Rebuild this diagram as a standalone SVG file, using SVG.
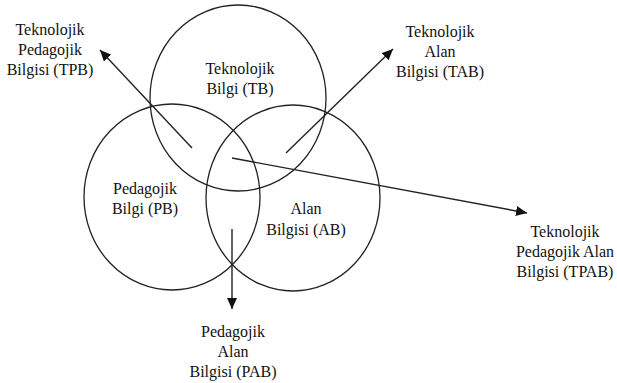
<svg xmlns="http://www.w3.org/2000/svg" width="617" height="383" viewBox="0 0 617 383">
<style>
.c{fill:none;stroke:#222;stroke-width:1.3}
.a{fill:none;stroke:#222;stroke-width:1.4}
</style>
<defs>
<marker id="ah" markerUnits="userSpaceOnUse" markerWidth="12" markerHeight="10" viewBox="0 0 12 10" refX="11" refY="5" orient="auto">
<path d="M0,0 L11,5 L0,10 Z" fill="#111"/>
</marker>
</defs>
<g id="TB"><ellipse class="c" cx="238" cy="98" rx="88" ry="93"/></g>
<g id="PB"><ellipse class="c" cx="172" cy="197" rx="88" ry="93"/></g>
<g id="AB"><ellipse class="c" cx="293" cy="198" rx="87" ry="93"/></g>
<g font-family="Liberation Serif, Times New Roman, DejaVu Serif, serif" font-size="16" fill="#111" text-anchor="middle">
<g id="TB-label"><text x="240" y="74">Teknolojik</text><text x="240" y="94">Bilgi (TB)</text></g>
<g id="PB-label"><text x="145" y="194">Pedagojik</text><text x="145" y="214">Bilgi (PB)</text></g>
<g id="AB-label"><text x="306" y="214">Alan</text><text x="306" y="235">Bilgisi (AB)</text></g>
<g id="TPB"><text x="50" y="35">Teknolojik</text><text x="50" y="55">Pedagojik</text><text x="50" y="75">Bilgisi (TPB)</text></g>
<g id="TAB"><text x="440" y="37">Teknolojik</text><text x="440" y="57">Alan</text><text x="440" y="77">Bilgisi (TAB)</text></g>
<g id="TPAB"><text x="565" y="237">Teknolojik</text><text x="565" y="257">Pedagojik Alan</text><text x="565" y="277">Bilgisi (TPAB)</text></g>
<g id="PAB"><text x="233" y="337">Pedagojik</text><text x="233" y="357">Alan</text><text x="233" y="377">Bilgisi (PAB)</text></g>
</g>
<g id="connectors">
<line class="a" x1="192" y1="148" x2="100" y2="50" marker-end="url(#ah)"/>
<line class="a" x1="286" y1="153" x2="393" y2="49" marker-end="url(#ah)"/>
<line class="a" x1="232" y1="158" x2="527" y2="213" marker-end="url(#ah)"/>
<line class="a" x1="232" y1="229" x2="232" y2="309" marker-end="url(#ah)"/>
</g>
</svg>
